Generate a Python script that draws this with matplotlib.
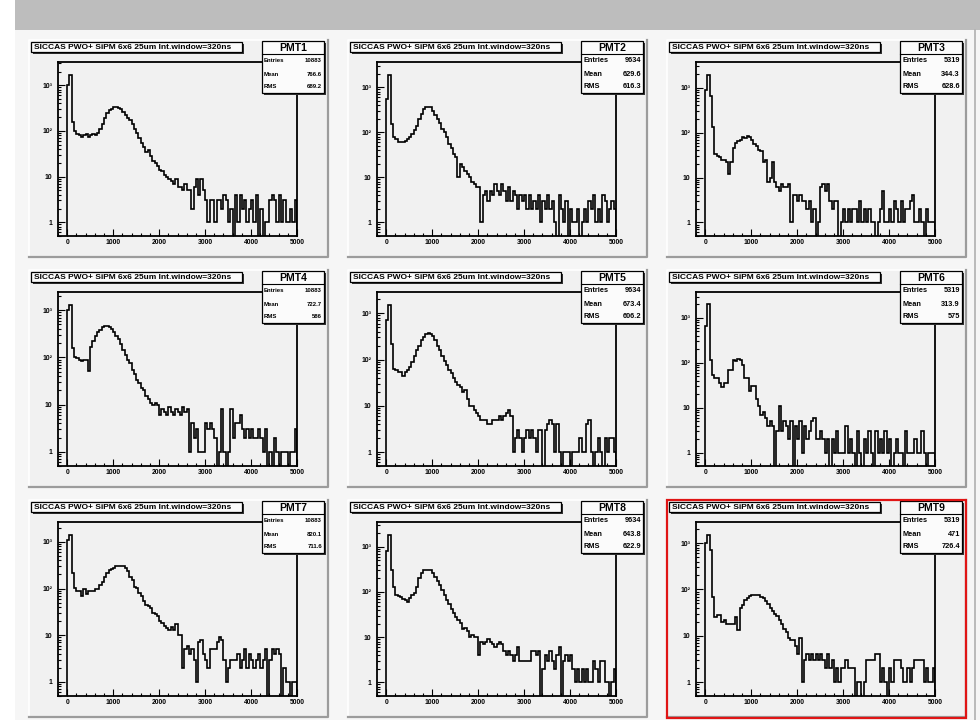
import numpy as np
import matplotlib
matplotlib.use('Agg')
import matplotlib.pyplot as plt
from matplotlib.patches import Rectangle
from matplotlib.lines import Line2D
from matplotlib.ticker import FixedLocator, MultipleLocator, LogLocator, NullFormatter

plt.rcParams['font.family'] = ['Liberation Sans', 'DejaVu Sans']
plt.rcParams['font.weight'] = 'bold'

W, H = 980, 720

# 100 bins of 50 channels, 0..5000
bin_edges = np.arange(0, 5001, 50)

title_text = "SICCAS PWO+ SiPM 6x6 25um Int.window=320ns"
pmt_names = ["PMT1", "PMT2", "PMT3", "PMT4", "PMT5", "PMT6", "PMT7", "PMT8", "PMT9"]
entries = ["10883", "9634", "5319", "10883", "9634", "5319", "10883", "9634", "5319"]
means = ["766.6", "629.6", "344.3", "722.7", "673.4", "313.9", "820.1", "643.8", "471"]
rms = ["689.2", "616.3", "628.6", "586", "606.2", "575", "711.6", "622.9", "726.4"]

x_ticks = [0, 1000, 2000, 3000, 4000, 5000]
y_ticks = [1, 10, 100, 1000]
y_ticklabels = ["1", "10", "10²", "10³"]

# bin contents (each row = 500 channels)
pmt1 = [1000, 1700, 160, 100, 85, 80, 75, 80, 85, 75,
        80, 85, 80, 90, 110, 140, 190, 250, 280, 300,
        330, 340, 320, 300, 260, 220, 190, 170, 140, 110,
        90, 70, 55, 45, 35, 38, 28, 22, 20, 17,
        14, 13, 11, 10, 9, 8, 7, 9, 6, 6,
        5, 7, 5, 5, 2, 6, 9, 4, 9, 5,
        3, 1, 3, 3, 1, 3, 3, 2, 4, 3,
        1, 2, 0, 4, 1, 4, 2, 3, 1, 2,
        3, 1, 4, 0, 2, 0, 1, 1, 3, 4,
        3, 1, 4, 1, 3, 1, 1, 2, 1, 3]
pmt2 = [550, 1900, 150, 80, 70, 62, 60, 62, 65, 70,
        80, 90, 110, 140, 200, 260, 320, 360, 370, 360,
        300, 240, 200, 160, 120, 100, 80, 55, 45, 33,
        28, 10, 20, 17, 14, 12, 10, 8, 7, 6,
        6, 1, 4, 5, 3, 5, 4, 7, 5, 4,
        7, 5, 3, 6, 3, 5, 4, 2, 4, 3,
        4, 2, 4, 2, 3, 2, 4, 1, 3, 2,
        4, 2, 3, 1, 0, 4, 2, 1, 3, 0,
        2, 1, 1, 2, 0, 1, 2, 1, 3, 2,
        4, 1, 2, 1, 4, 3, 1, 2, 3, 2]
pmt3 = [900, 1950, 650, 130, 33, 30, 28, 25, 25, 22,
        12, 22, 46, 60, 65, 70, 80, 75, 85, 80,
        70, 55, 50, 40, 38, 22, 24, 8, 10, 22,
        8, 6, 5, 7, 6, 6, 7, 1, 4, 4,
        3, 4, 3, 3, 2, 3, 1, 2, 0, 1,
        6, 7, 5, 7, 3, 2, 3, 3, 0, 1,
        2, 1, 2, 1, 2, 2, 1, 3, 1, 2,
        1, 2, 1, 1, 0, 1, 2, 5, 1, 1,
        2, 1, 3, 2, 1, 3, 1, 2, 2, 3,
        4, 1, 1, 2, 1, 0, 2, 1, 1, 1]
pmt4 = [1000, 1280, 160, 100, 95, 90, 85, 90, 90, 52,
        170, 220, 280, 340, 390, 440, 470, 460, 450, 400,
        350, 280, 240, 190, 145, 115, 90, 75, 55, 45,
        33, 28, 22, 20, 15, 13, 11, 10, 11, 10,
        6, 8, 7, 6, 9, 7, 6, 8, 7, 6,
        9, 7, 8, 1, 4, 2, 3, 1, 1, 1,
        4, 3, 4, 3, 2, 0, 1, 8, 1, 0,
        1, 8, 2, 4, 4, 6, 3, 2, 3, 2,
        3, 2, 2, 3, 2, 1, 3, 0, 1, 0,
        2, 1, 0, 1, 1, 1, 0, 1, 1, 3]
pmt5 = [700, 1520, 220, 63, 60, 55, 55, 45, 55, 60,
        70, 90, 120, 160, 200, 260, 300, 350, 370, 360,
        320, 260, 200, 160, 120, 95, 75, 60, 50, 40,
        33, 28, 25, 20, 22, 14, 10, 10, 8, 7,
        6, 5, 5, 5, 4, 4, 5, 5, 5, 6,
        5, 6, 7, 8, 6, 1, 2, 3, 2, 1,
        2, 3, 2, 3, 2, 1, 3, 3, 0, 3,
        4, 5, 4, 1, 4, 1, 0, 1, 1, 1,
        0, 1, 1, 1, 2, 1, 1, 4, 5, 1,
        0, 1, 2, 1, 0, 2, 1, 2, 2, 1]
pmt6 = [650, 2000, 115, 53, 45, 45, 35, 29, 35, 35,
        68, 68, 115, 110, 120, 115, 90, 45, 45, 23,
        30, 30, 16, 11, 7, 8, 6, 4, 5, 4,
        0, 3, 11, 3, 5, 4, 2, 5, 0, 4,
        2, 5, 1, 4, 2, 3, 5, 6, 2, 2,
        3, 2, 1, 2, 0, 2, 1, 3, 1, 1,
        1, 4, 1, 2, 1, 0, 3, 1, 0, 2,
        1, 3, 1, 0, 3, 1, 2, 1, 3, 1,
        2, 0, 1, 2, 1, 1, 0, 3, 1, 1,
        1, 2, 1, 1, 3, 1, 0, 1, 1, 1]
pmt7 = [1100, 1400, 220, 105, 90, 90, 70, 100, 75, 90,
        90, 90, 100, 100, 120, 135, 180, 220, 250, 260,
        280, 300, 310, 310, 300, 280, 240, 180, 150, 110,
        105, 80, 70, 55, 45, 42, 38, 30, 28, 26,
        20, 18, 16, 14, 13, 15, 13, 17, 10, 10,
        2, 5, 6, 4, 5, 3, 1, 7, 8, 4,
        3, 2, 5, 5, 5, 7, 9, 8, 3, 1,
        2, 3, 3, 3, 4, 2, 3, 5, 2, 4,
        3, 2, 3, 4, 2, 3, 5, 0, 3, 5,
        4, 5, 4, 0, 2, 1, 1, 0, 1, 1]
pmt8 = [800, 1850, 300, 130, 85, 80, 78, 70, 65, 60,
        75, 85, 95, 130, 200, 260, 300, 310, 310, 300,
        260, 210, 170, 140, 110, 85, 67, 55, 43, 35,
        28, 24, 21, 15, 16, 14, 10, 11, 10, 10,
        4, 8, 7, 8, 9, 8, 7, 6, 7, 8,
        7, 5, 4, 5, 4, 3, 4, 6, 3, 3,
        3, 3, 3, 5, 5, 4, 5, 0, 2, 4,
        3, 5, 3, 2, 4, 6, 0, 3, 4, 3,
        4, 2, 1, 2, 1, 2, 1, 2, 1, 1,
        3, 2, 1, 3, 3, 1, 1, 0, 1, 2]
pmt9 = [1000, 1500, 700, 70, 25, 28, 28, 20, 22, 18,
        18, 18, 18, 25, 13, 40, 45, 58, 65, 71,
        75, 75, 75, 75, 70, 65, 55, 48, 40, 35,
        30, 27, 22, 18, 14, 12, 9, 8, 8, 6,
        4, 9, 1, 3, 4, 3, 4, 3, 4, 3,
        4, 3, 2, 4, 2, 3, 1, 2, 1, 2,
        2, 3, 2, 2, 2, 0, 1, 1, 0, 1,
        3, 3, 3, 3, 4, 4, 1, 2, 1, 0,
        2, 1, 3, 3, 3, 2, 1, 1, 2, 1,
        2, 3, 3, 3, 3, 1, 2, 1, 1, 2]
spectra = [pmt1, pmt2, pmt3, pmt4, pmt5, pmt6, pmt7, pmt8, pmt9]

# pad layout in pixels
col_left = [29, 348, 667]
row_top = [40, 270, 500]
pad_w, pad_h = 299, 217
stats_fs = [4.3, 5.3, 5.3]

fig = plt.figure(figsize=(W / 100, H / 100), dpi=100)
fig.patch.set_facecolor('white')


def fig_rect(x, y, w, h, **kw):
    r = Rectangle((x / W, 1 - (y + h) / H), w / W, h / H, transform=fig.transFigure, **kw)
    fig.add_artist(r)
    return r


def fig_line(xs, ys, **kw):
    fig.add_artist(Line2D([x / W for x in xs], [1 - y / H for y in ys],
                          transform=fig.transFigure, **kw))


def fig_text(x, y, s, **kw):
    return fig.text(x / W, 1 - y / H, s, **kw)


# canvas: window bar + background
fig_rect(15, 0, W - 15, 30, facecolor='#bdbdbd', edgecolor='none', zorder=-10)
fig_rect(15, 30, W - 15, H - 30, facecolor='#f6f6f6', edgecolor='none', zorder=-10)
fig_line([975, 975], [30, H], color='#b0b0b0', lw=1.2, zorder=-9)

for i, counts in enumerate(spectra):
    px = col_left[i % 3]
    py = row_top[i // 3]

    # pad with bevel
    fig_rect(px, py, pad_w, pad_h, facecolor='#f1f1f1', edgecolor='none', zorder=-8)
    fig_line([px, px, px + pad_w], [py + pad_h, py, py], color='white', lw=1.2, zorder=-7)
    fig_line([px, px + pad_w, px + pad_w], [py + pad_h, py + pad_h, py], color='#9c9c9c', lw=1.6, zorder=-7)

    # frame
    fx, fy, fw, fh = px + 29, py + 22, 239, 174
    ax = fig.add_axes([fx / W, 1 - (fy + fh) / H, fw / W, fh / H])
    ax.patch.set_visible(False)
    counts = np.array(counts, dtype=float)
    shown = np.where(counts > 0, counts, 1e-2)
    ax.stairs(shown, bin_edges, baseline=1e-2, color='black', lw=1.2)
    ax.set_yscale('log')
    ax.set_xlim(-200, 5000)
    ax.set_ylim(0.5, 1.9 * counts.max())

    ax.xaxis.set_major_locator(FixedLocator(x_ticks))
    ax.set_xticklabels([str(t) for t in x_ticks])
    ax.xaxis.set_minor_locator(MultipleLocator(200))
    ax.yaxis.set_major_locator(FixedLocator(y_ticks))
    ax.set_yticklabels(y_ticklabels)
    ax.yaxis.set_minor_locator(LogLocator(base=10, subs=np.arange(2, 10)))
    ax.yaxis.set_minor_formatter(NullFormatter())
    ax.tick_params(which='both', direction='in', top=False, right=False, width=0.8)
    ax.tick_params(which='major', length=5, labelsize=4.9)
    ax.tick_params(which='minor', length=2.5)
    ax.tick_params(axis='x', pad=2)
    ax.tick_params(axis='y', pad=4)
    for sp in ax.spines.values():
        sp.set_linewidth(1.3)

    # title box
    fig_rect(px + 4, py + 4, 211, 10, facecolor='#333333', edgecolor='none', zorder=4)
    fig_rect(px + 2, py + 2, 211, 10, facecolor='#fbfbfb', edgecolor='black', lw=0.9, zorder=5)
    fig_text(px + 5, py + 7.3, title_text, fontsize=6.0, fontweight='bold',
             va='center', ha='left', zorder=6)

    # stats box
    sx, sy, sw, sh = px + 233, py + 1, 62, 52
    fig_rect(sx + 2, sy + 2, sw, sh, facecolor='#333333', edgecolor='none', zorder=4)
    fig_rect(sx, sy, sw, sh, facecolor='#fbfbfb', edgecolor='black', lw=0.9, zorder=5)
    fig_line([sx, sx + sw], [sy + 13, sy + 13], color='black', lw=0.8, zorder=6)
    fig_text(sx + sw / 2, sy + 7, pmt_names[i], fontsize=7.5, fontweight='bold',
             ha='center', va='center', zorder=6)
    fs = stats_fs[i % 3]
    for k, (lab, val) in enumerate([("Entries", entries[i]), ("Mean", means[i]), ("RMS", rms[i])]):
        yy = sy + 20 + k * 13
        fig_text(sx + 2, yy, lab, fontsize=fs, fontweight='bold', ha='left', va='center', zorder=6)
        fig_text(sx + sw - 2, yy, val, fontsize=fs, fontweight='bold', ha='right', va='center', zorder=6)

# active pad highlighted in red
fig_rect(col_left[2], row_top[2], pad_w, pad_h + 1, facecolor='none', edgecolor='#e01515', lw=1.6, zorder=8)

fig.savefig('out.png', dpi=100, facecolor=fig.get_facecolor())
